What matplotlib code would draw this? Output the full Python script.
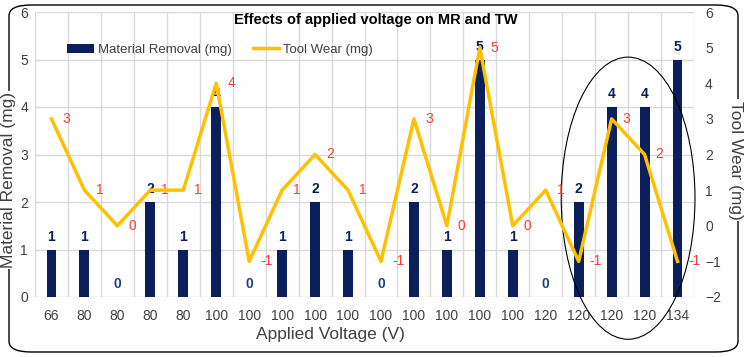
import matplotlib.pyplot as plt
from matplotlib.patches import Ellipse, FancyBboxPatch

plt.rcParams['font.family'] = ['Liberation Sans', 'DejaVu Sans']

# data
voltage = ["66", "80", "80", "80", "80", "100", "100", "100", "100", "100",
           "100", "100", "100", "100", "100", "120", "120", "120", "120", "134"]
material_removal = [1, 1, 0, 2, 1, 4, 0, 1, 2, 1, 0, 2, 1, 5, 1, 0, 2, 4, 4, 5]
tool_wear = [3, 1, 0, 1, 1, 4, -1, 1, 2, 1, -1, 3, 0, 5, 0, 1, -1, 3, 2, -1]

NAVY = "#0b1f5c"
GOLD = "#ffc000"
RED = "#ff3b3b"
TXT = "#404040"

fig = plt.figure(figsize=(7.46, 3.57), dpi=100)
ax = fig.add_axes([35 / 746, 1 - 297 / 357, 659 / 746, 285 / 357])
ax2 = ax.twinx()

x = list(range(len(voltage)))
bars = ax.bar(x, material_removal, width=0.3, color=NAVY, label="Material Removal (mg)", zorder=3)
for xi, v in zip(x, material_removal):
    ax.annotate(str(v), (xi, v), xytext=(0, 4), textcoords="offset points",
                ha="center", va="bottom", color=NAVY if v else "#1f3f8a",
                fontsize=10, fontweight="bold")

line, = ax2.plot(x, tool_wear, color=GOLD, lw=2.5, label="Tool Wear (mg)", zorder=4)
for xi, v in zip(x, tool_wear):
    ax2.annotate(str(v), (xi, v), xytext=(8, 0), textcoords="offset points",
                 ha="left", va="center", color=RED, fontsize=10)

ax.set_xlim(-0.5, len(voltage) - 0.5)
ax.set_ylim(0, 6)
ax2.set_ylim(-2, 6)
ax.set_xticks(x)
ax.set_xticklabels(voltage)
ax.set_xticks([i + 0.5 for i in range(-1, len(voltage))], minor=True)
ax.set_yticks(range(0, 7))
ax2.set_yticks(range(-2, 7))
ax.grid(axis="y", color="#d9d9d9", lw=1, zorder=0)
ax.grid(axis="x", which="minor", color="#d9d9d9", lw=1, zorder=0)
ax.tick_params(which="both", length=0, labelsize=10, colors=TXT)
ax.tick_params(axis="x", pad=9)
ax.tick_params(axis="y", pad=5)
ax2.tick_params(length=0, labelsize=10, colors=TXT, pad=8)
for a in (ax, ax2):
    for s in a.spines.values():
        s.set_visible(False)
ax.set_zorder(ax2.get_zorder() - 1)
ax.patch.set_visible(False)
ax2.patch.set_visible(False)

# circled 120 V group
ax.add_patch(Ellipse((17.5, 2.08), 4.06, 5.94, fill=False, ec="black", lw=0.8,
                     clip_on=False, zorder=5))

# rounded frame around the chart
fig.patches.append(FancyBboxPatch((9 / 746, 5 / 357), 729 / 746, 347 / 357,
                                  boxstyle="round,pad=0,rounding_size=0.03",
                                  transform=fig.transFigure, fill=False,
                                  ec="black", lw=1))

fig.text(330 / 746, 1 - 335 / 357, "Applied Voltage (V)", ha="center", va="center",
         fontsize=12.5, color=TXT)
fig.text(9 / 746, 1 - 180 / 357, "Material Removal (mg)", rotation=90, ha="center",
         va="center", fontsize=12.5, color=TXT,
         bbox=dict(facecolor="white", edgecolor="none", pad=1))
fig.text(736 / 746, 1 - 160 / 357, "Tool Wear (mg)", rotation=270, ha="center",
         va="center", fontsize=12.5, color=TXT,
         bbox=dict(facecolor="white", edgecolor="none", pad=1))
fig.text(376 / 746, 1 - 20 / 357, "Effects of applied voltage on MR and TW",
         ha="center", va="center", fontsize=10.5, fontweight="bold", color="black")

fig.legend(handles=[bars, line], loc="center", bbox_to_anchor=(220 / 746, 1 - 50 / 357),
           ncol=2, frameon=False, fontsize=9.5, handlelength=2.0, handletextpad=0.3,
           columnspacing=1.6, labelcolor=TXT)

fig.savefig("out.png", dpi=100)
